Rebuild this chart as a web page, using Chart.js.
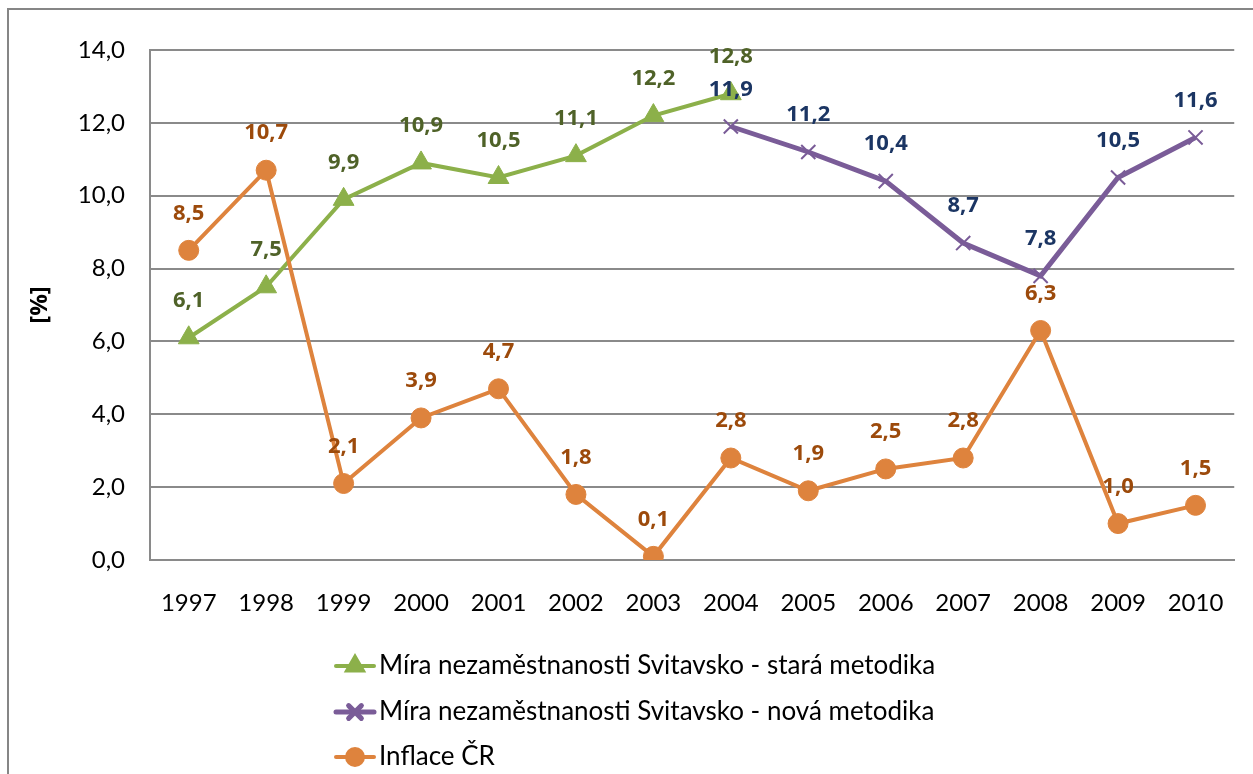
<!DOCTYPE html>
<html>
<head>
<meta charset="utf-8">
<script src="https://cdn.jsdelivr.net/npm/chart.js@4.4.1/dist/chart.umd.min.js"></script>
<style>
  html, body { margin: 0; padding: 0; background: #fff; overflow: hidden; }
  #wrap { position: relative; width: 1253px; height: 774px; }
  #frame { position: absolute; left: 7px; top: 8px; width: 1300px; height: 900px; border: 2px solid #868686; }
  canvas { position: absolute; left: 0; top: 0; }
</style>
</head>
<body>
<div id="wrap">
  <div id="frame"></div>
  <canvas id="c" width="1253" height="774"></canvas>
</div>
<script>
'use strict';

const YEARS = ['1997','1998','1999','2000','2001','2002','2003','2004','2005','2006','2007','2008','2009','2010'];
const OLD_METHOD = [6.1, 7.5, 9.9, 10.9, 10.5, 11.1, 12.2, 12.8, null, null, null, null, null, null];
const NEW_METHOD = [null, null, null, null, null, null, null, 11.9, 11.2, 10.4, 8.7, 7.8, 10.5, 11.6];
const INFLATION  = [8.5, 10.7, 2.1, 3.9, 4.7, 1.8, 0.1, 2.8, 1.9, 2.5, 2.8, 6.3, 1.0, 1.5];
const Y_TICKS    = [0, 2, 4, 6, 8, 10, 12, 14];

const FONT = 'Lato, "Open Sans", sans-serif';
const BOLD_FONT = '"Open Sans", Lato, sans-serif';
const GRID = '#8a8a8a';

const SERIES = [
  { label: 'Míra nezaměstnanosti Svitavsko - stará metodika', data: OLD_METHOD, color: '#8CB04A', text: '#4F6228', style: 'triangle' },
  { label: 'Míra nezaměstnanosti Svitavsko - nová metodika',  data: NEW_METHOD, color: '#7A5C98', text: '#1B3563', style: 'crossRot' },
  { label: 'Inflace ČR',                                      data: INFLATION,  color: '#DE833D', text: '#9C4A0B', style: 'circle' }
];

const fmt = v => v.toFixed(1).replace('.', ',');

// value labels above each point
const valueLabels = {
  id: 'valueLabels',
  afterDatasetsDraw(chart) {
    const ctx = chart.ctx;
    ctx.save();
    ctx.font = 'bold 22px ' + BOLD_FONT;
    ctx.textAlign = 'center';
    ctx.textBaseline = 'middle';
    chart.data.datasets.forEach((ds, i) => {
      const meta = chart.getDatasetMeta(i);
      ctx.fillStyle = SERIES[i].text;
      meta.data.forEach((pt, j) => {
        const v = ds.data[j];
        if (v === null) return;
        ctx.fillText(fmt(v), pt.x, pt.y - 37);
      });
    });
    ctx.restore();
  }
};

// vertical legend under the plot
const sideLegend = {
  id: 'sideLegend',
  afterDraw(chart) {
    const ctx = chart.ctx;
    const rows = [666, 712, 757];
    ctx.save();
    SERIES.forEach((s, i) => {
      const y = rows[i];
      ctx.strokeStyle = s.color;
      ctx.fillStyle = s.color;
      ctx.lineWidth = i === 1 ? 5 : 4;
      ctx.lineCap = 'round';
      ctx.beginPath();
      ctx.moveTo(336, y);
      ctx.lineTo(374, y);
      ctx.stroke();
      Chart.helpers.drawPoint(ctx, {
        pointStyle: s.style, radius: i === 2 ? 8 : 9, borderWidth: i === 1 ? 1.5 : 1
      }, 355, y);
      if (s.style !== 'crossRot') ctx.fill();
      ctx.fillStyle = '#000';
      ctx.font = '26px ' + FONT;
      ctx.textAlign = 'left';
      ctx.textBaseline = 'middle';
      ctx.fillText(s.label, 379, y);
    });
    ctx.restore();
  }
};

new Chart(document.getElementById('c'), {
  type: 'line',
  data: {
    labels: YEARS,
    datasets: SERIES.map((s, i) => ({
      label: s.label,
      data: s.data,
      borderColor: s.color,
      backgroundColor: s.color,
      pointBackgroundColor: s.color,
      pointBorderColor: s.color,
      borderWidth: i === 1 ? 5 : 4,
      pointStyle: s.style,
      pointRadius: i === 0 ? 12 : 10,
      pointBorderWidth: i === 1 ? 2 : 1,
      tension: 0,
      spanGaps: false,
      order: i === 2 ? -1 : i
    }))
  },
  options: {
    responsive: false,
    animation: false,
    layout: { padding: { left: 0, top: 50, right: 18, bottom: 150 } },
    plugins: { legend: { display: false }, tooltip: { enabled: false } },
    scales: {
      x: {
        offset: true,
        grid: { display: false, drawTicks: false },
        border: { display: true, color: GRID, width: 2 },
        ticks: { color: '#000', padding: 29, font: { family: FONT, size: 24 }, maxRotation: 0 },
        afterFit: s => { s.height = 64; }
      },
      y: {
        min: 0, max: 14,
        afterBuildTicks: s => { s.ticks = Y_TICKS.map(v => ({ value: v })); },
        grid: { color: GRID, lineWidth: 2, drawTicks: false },
        border: { display: true, color: GRID, width: 2 },
        ticks: { color: '#000', padding: 25, font: { family: FONT, size: 24 }, callback: v => fmt(v) },
        title: { display: true, text: '[%]', color: '#000', font: { family: BOLD_FONT, size: 24, weight: 'bold' }, padding: { top: 26, bottom: 0 } },
        afterFit: s => { s.width = 150; }
      }
    }
  },
  plugins: [valueLabels, sideLegend]
});
</script>
</body>
</html>
